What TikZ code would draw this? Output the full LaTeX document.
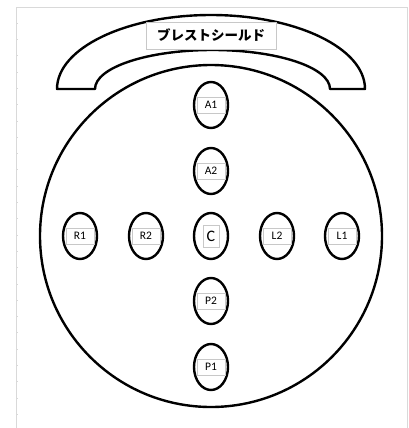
\documentclass[tikz,border=0pt]{standalone}
\usepackage{fontspec}
\newfontfamily\jpfont{Noto Sans CJK JP}
\newfontfamily\lblfont{Carlito}
\usetikzlibrary{shapes.geometric,positioning}
\definecolor{ink}{HTML}{000000}
\definecolor{grid}{HTML}{D9D9D9}
\definecolor{boxline}{HTML}{C8C8C8}
\tikzset{
  frame/.style={draw=grid,line width=.8pt},
  outline/.style={draw=ink,line width=2.4pt,line join=round},
  pad/.style={ellipse,draw=ink,line width=2.4pt,minimum width=34pt,minimum height=46pt,inner sep=0pt},
  tag/.style={draw=boxline,line width=.6pt,fill=white,inner sep=1pt,minimum width=28pt,minimum height=16pt,
    font=\lblfont\fontsize{11.5}{12}\selectfont},
  ctag/.style={tag,minimum width=16pt,minimum height=22pt,font=\lblfont\fontsize{16}{17}\selectfont},
  titlebox/.style={draw=boxline,line width=.7pt,fill=white,minimum width=130pt,minimum height=27pt,
    font=\jpfont\bfseries\fontsize{13.5}{14}\selectfont}}
\begin{document}
\begin{tikzpicture}[x=1pt,y=-1pt]
\useasboundingbox (0,0) rectangle (408,428);
% sheet frame
\draw[frame] (16,428)--(16,7)--(407,7)--(407,428);
\foreach \y in {23,39.3,...,428} {\draw[grid,line width=.5pt] (16,\y)--(18,\y);}
% shield
\draw[outline] (57,89) arc[start angle=180,end angle=0,x radius=154,y radius=-74]
  -- (330,89) arc[start angle=0,end angle=180,x radius=117.5,y radius=-39] -- cycle;
\node[titlebox] (shield) at (211,35.5) {ブレストシールド};
% body
\draw[outline] (211,236) circle[radius=171];
\node[pad] (c) at (211,236) {};
\node[ctag] (ctxt) at (c) {C};
\foreach \n/\x/\y in {a1/211/105,a2/211/171,p2/211/301,p1/211/367,r1/80/236,r2/146/236,l2/277/236,l1/342/236}
  {\node[pad] (\n) at (\x,\y) {};
   \node[tag] (\n txt) at (\n) {\MakeUppercase{\n}};}
\end{tikzpicture}
\end{document}
